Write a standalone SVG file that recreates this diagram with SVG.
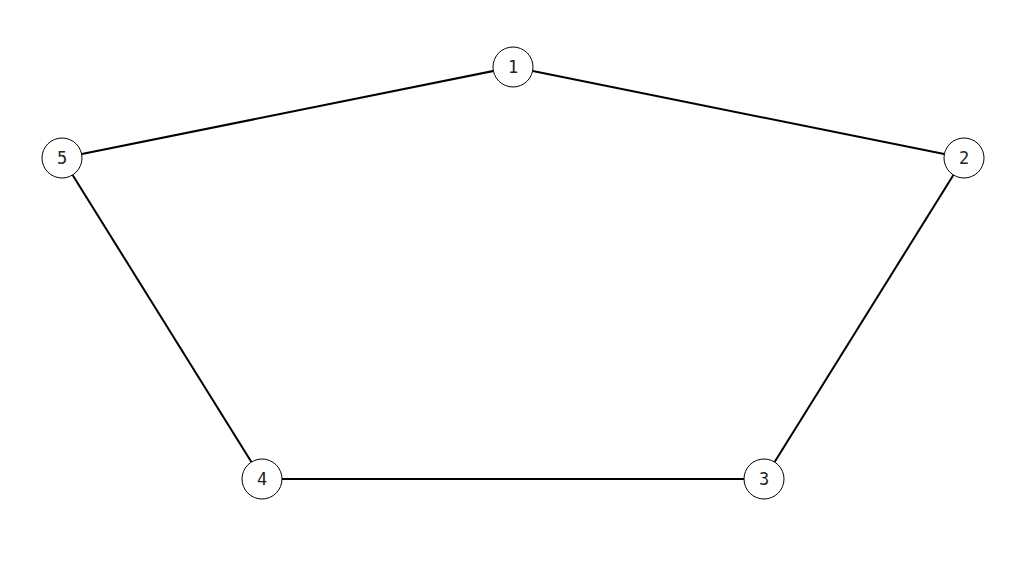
<svg xmlns="http://www.w3.org/2000/svg" width="1033" height="574" viewBox="0 0 1033 574">
<style>
.n circle{fill:#fff;stroke:#000;stroke-width:1}
.n text{font-family:"DejaVu Sans Mono",monospace;font-size:17px;fill:#222;text-anchor:middle;dominant-baseline:central}
.e line{stroke:#000;stroke-width:2}
</style>
<rect width="1033" height="574" fill="#fff"/>
<g id="edges" class="e">
<line x1="513" y1="67" x2="964" y2="158"/>
<line x1="964" y1="158" x2="764" y2="479"/>
<line x1="764" y1="479" x2="262" y2="479"/>
<line x1="262" y1="479" x2="62" y2="158"/>
<line x1="62" y1="158" x2="513" y2="67"/>
</g>
<g id="node1" class="n"><circle cx="513" cy="67" r="20"/><text x="513" y="67">1</text></g>
<g id="node2" class="n"><circle cx="964" cy="158" r="20"/><text x="964" y="158">2</text></g>
<g id="node3" class="n"><circle cx="764" cy="479" r="20"/><text x="764" y="479">3</text></g>
<g id="node4" class="n"><circle cx="262" cy="479" r="20"/><text x="262" y="479">4</text></g>
<g id="node5" class="n"><circle cx="62" cy="158" r="20"/><text x="62" y="158">5</text></g>
</svg>
